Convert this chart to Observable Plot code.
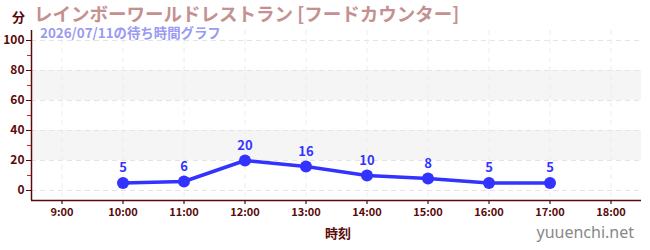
<!DOCTYPE html>
<html>
<head>
<meta charset="utf-8">
<script src="https://cdn.jsdelivr.net/npm/d3@7"></script>
<script src="https://cdn.jsdelivr.net/npm/@observablehq/plot@0.6"></script>
<style>
  html, body { margin: 0; padding: 0; background: #fff; }
  #wrap { position: relative; width: 650px; height: 250px; font-family: "Noto Sans CJK JP", "Noto Sans", sans-serif; }
  .t { position: absolute; white-space: nowrap; font-weight: bold; }
</style>
</head>
<body>
<div id="wrap"></div>
<script>
const title = "レインボーワールドレストラン [フードカウンター]";
const subtitle = "2026/07/11の待ち時間グラフ";
const yUnit = "分";
const xLabel = "時刻";
const site = "yuuenchi.net";

const hours = [10, 11, 12, 13, 14, 15, 16, 17];
const waits = [5, 6, 20, 16, 10, 8, 5, 5];
const xTicks = [9, 10, 11, 12, 13, 14, 15, 16, 17, 18];
const yTicks = [0, 20, 40, 60, 80, 100];
const yMinorTicks = [10, 30, 50, 70, 90];
const bandLo = [20, 60];
const bandHi = [40, 80];
const xDomain = [8.5, 18.5];
const yDomain = [-20 / 3, 320 / 3];

const data = hours.map((h, i) => ({h, w: waits[i]}));
const bands = bandLo.map((lo, i) => ({lo, hi: bandHi[i]}));

const maroon = "#5a0a0a";
const blue = "#3333ff";

const chart = Plot.plot({
  width: 650,
  height: 250,
  marginLeft: 31,
  marginRight: 9,
  marginTop: 30,
  marginBottom: 50,
  style: {fontFamily: "'Noto Sans CJK JP', 'Noto Sans', sans-serif", background: "transparent"},
  x: {domain: xDomain, label: null},
  y: {domain: yDomain, label: null},
  marks: [
    Plot.rect(bands, {x1: xDomain[0], x2: xDomain[1], y1: "lo", y2: "hi", fill: "#f5f5f5"}),
    Plot.gridY(yTicks, {stroke: "#e4e4e4", strokeOpacity: 1, strokeDasharray: "5,4"}),
    Plot.gridX(xTicks, {stroke: "#ececec", strokeOpacity: 1, strokeDasharray: "5,4"}),
    Plot.axisY(yMinorTicks, {tickSize: 4, stroke: "#dd2222", text: null, tickFormat: () => ""}),
    Plot.axisY(yTicks, {tickSize: 5, stroke: maroon, fill: maroon, fontSize: 12, fontWeight: "bold", tickPadding: 2}),
    Plot.axisX(xTicks, {tickSize: 4, stroke: "#777", fill: maroon, fontSize: 11, fontWeight: "bold", tickPadding: 4, tickFormat: d => d + ":00", strokeWidth: 2}),
    Plot.ruleX([xDomain[0]], {stroke: maroon, strokeWidth: 1.5}),
    Plot.ruleY([yDomain[0]], {stroke: maroon, strokeWidth: 1.5}),
    Plot.line(data, {x: "h", y: "w", stroke: blue, strokeWidth: 3.5}),
    Plot.dot(data, {x: "h", y: "w", r: 6, fill: blue, stroke: "none"}),
    Plot.text(data, {x: "h", y: "w", text: d => String(d.w), dy: -15, fill: blue, fontSize: 13, fontWeight: "bold"})
  ]
});

const wrap = document.getElementById("wrap");
chart.style.position = "absolute";
chart.style.left = "0";
chart.style.top = "0";
wrap.appendChild(chart);

function addText(txt, css) {
  const d = document.createElement("div");
  d.className = "t";
  d.textContent = txt;
  Object.assign(d.style, css);
  wrap.appendChild(d);
  return d;
}
addText(title, {left: "34px", top: "3px", fontSize: "18.5px", color: "#c49090", lineHeight: "20px"});
addText(subtitle, {left: "40px", top: "24px", fontSize: "13.4px", color: "#9a9af2", lineHeight: "16px"});
addText(yUnit, {left: "12px", top: "8px", fontSize: "13px", color: maroon, lineHeight: "18px"});
addText(xLabel, {left: "325px", top: "223px", fontSize: "13px", color: maroon, lineHeight: "20px"});
addText(site, {right: "16px", top: "220px", fontSize: "16px", color: "#888", fontWeight: "normal", fontFamily: "'Noto Sans', sans-serif", lineHeight: "24px"});
</script>
</body>
</html>
